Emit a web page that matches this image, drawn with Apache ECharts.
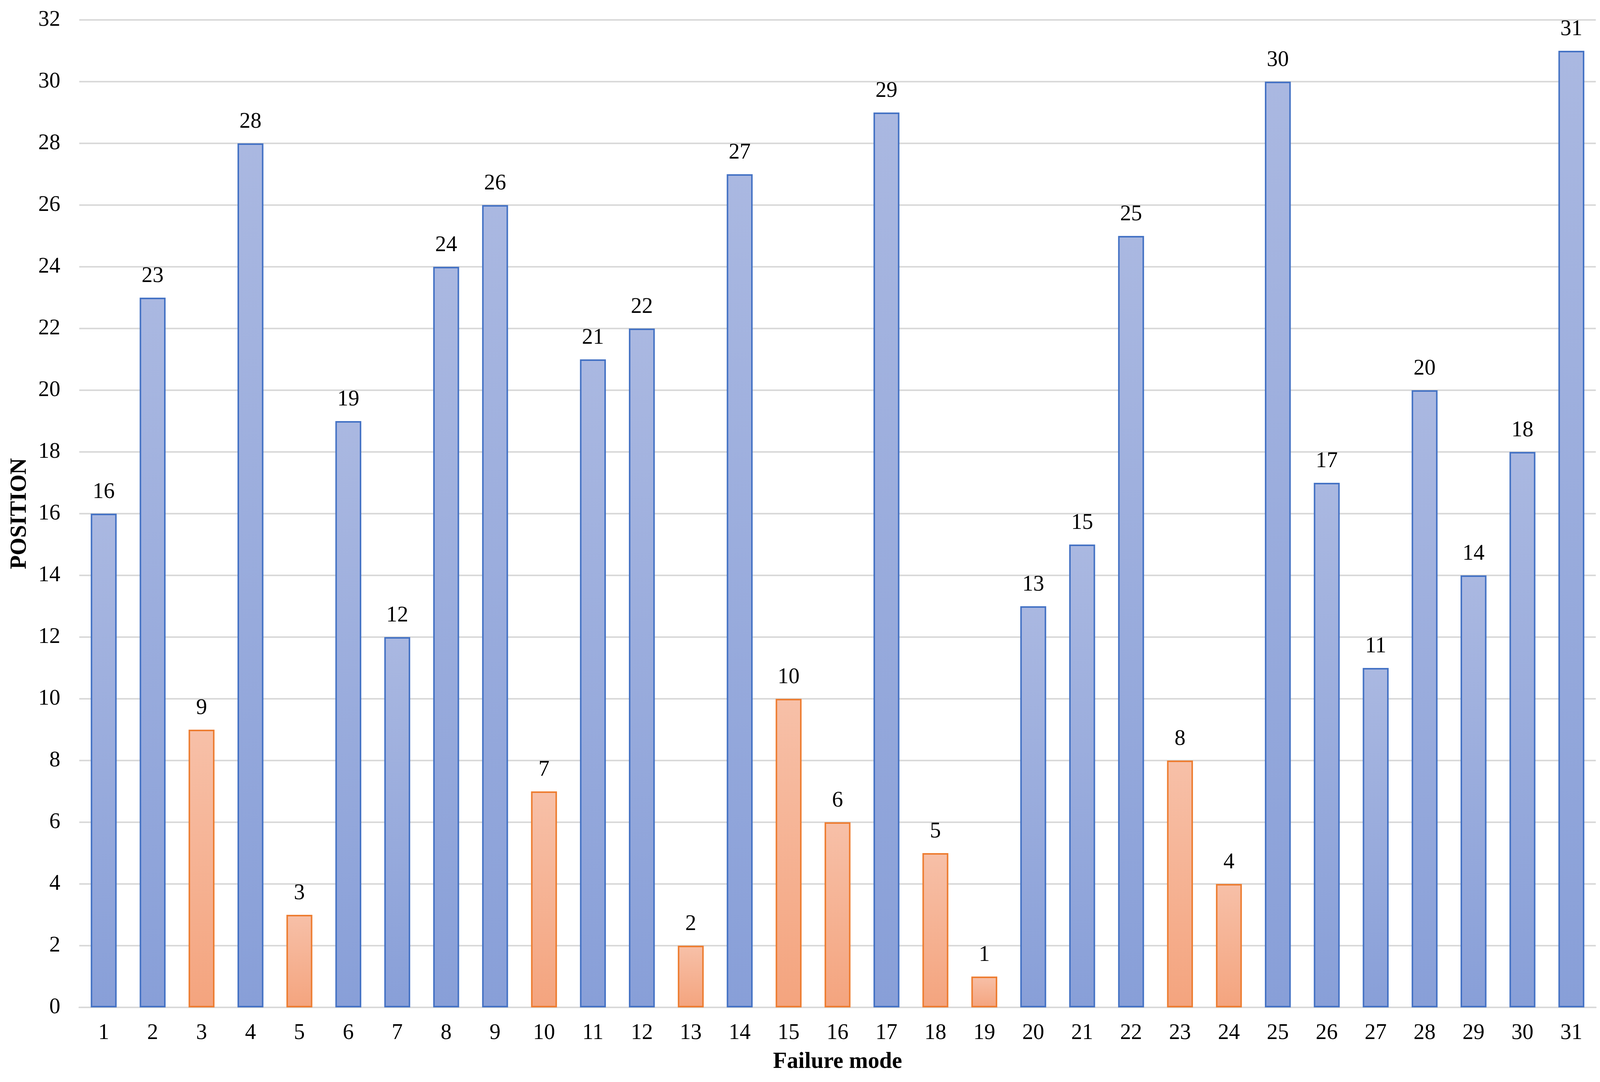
<!DOCTYPE html>
<html>
<head>
<meta charset="utf-8">
<script src="https://cdn.jsdelivr.net/npm/echarts@6/dist/echarts.min.js"></script>
<style>
html,body{margin:0;padding:0;background:#fff;overflow:hidden;width:100%;height:100%;}
#chart{width:100vw;height:100vh;}
</style>
</head>
<body>
<div id="chart"></div>
<script>
var categories = ['1','2','3','4','5','6','7','8','9','10','11','12','13','14','15','16','17','18','19','20','21','22','23','24','25','26','27','28','29','30','31'];
var positions = [16,23,9,28,3,19,12,24,26,7,21,22,2,27,10,6,29,5,1,13,15,25,8,4,30,17,11,20,14,18,31];
var yTicks = [0,2,4,6,8,10,12,14,16,18,20,22,24,26,28,30,32];
var highlightLimit = 10;

var FONT = '"Liberation Serif","Times New Roman",serif';
var el = document.getElementById('chart');
var W = window.innerWidth || 4220;
var H = window.innerHeight || 2770;
var sx = W / 4220, sy = H / 2770, s = Math.min(sx, sy);
var chart = echarts.init(el, null, {width: W, height: H});

function blueGrad(){
  return new echarts.graphic.LinearGradient(0,0,0,1,[{offset:0,color:'#aab8e1'},{offset:1,color:'#889fd8'}]);
}
function orangeGrad(){
  return new echarts.graphic.LinearGradient(0,0,0,1,[{offset:0,color:'#f7c0a8'},{offset:1,color:'#f4a47e'}]);
}

var data = positions.map(function(v){
  var hi = v <= highlightLimit;
  return {
    value: v,
    itemStyle: {
      color: hi ? orangeGrad() : blueGrad(),
      borderColor: hi ? '#ed7d31' : '#4472c4',
      borderWidth: 4 * s
    }
  };
});

chart.setOption({
  backgroundColor: '#ffffff',
  animation: false,
  grid: {left: 209 * sx, right: 11 * sx, top: 51 * sy, bottom: 191 * sy, containLabel: false},
  xAxis: {
    type: 'category',
    data: categories,
    name: 'Failure mode',
    nameLocation: 'middle',
    nameGap: 111 * sy,
    nameTextStyle: {fontFamily: FONT, fontWeight: 'bold', fontSize: 60 * s, color: '#000'},
    axisLine: {show: true, lineStyle: {color: '#d9d9d9', width: 4 * s}},
    axisTick: {show: false},
    axisLabel: {fontFamily: FONT, fontSize: 58 * s, color: '#000', margin: 38 * sy, interval: 0}
  },
  yAxis: {
    type: 'value',
    min: yTicks[0],
    max: yTicks[yTicks.length-1],
    interval: yTicks[1]-yTicks[0],
    name: 'POSITION',
    nameLocation: 'middle',
    nameGap: 127 * sx,
    nameRotate: 90,
    nameTextStyle: {fontFamily: FONT, fontWeight: 'bold', fontSize: 60 * s, color: '#000'},
    axisLine: {show: false},
    axisTick: {show: false},
    splitLine: {show: true, lineStyle: {color: '#d9d9d9', width: 4 * s}},
    axisLabel: {fontFamily: FONT, fontSize: 58 * s, color: '#000', margin: 50 * sx}
  },
  series: [{
    type: 'bar',
    data: data,
    barWidth: '53%',
    label: {
      show: true,
      position: 'top',
      distance: 28 * s,
      fontFamily: FONT,
      fontSize: 58 * s,
      color: '#000'
    }
  }]
});
</script>
</body>
</html>
